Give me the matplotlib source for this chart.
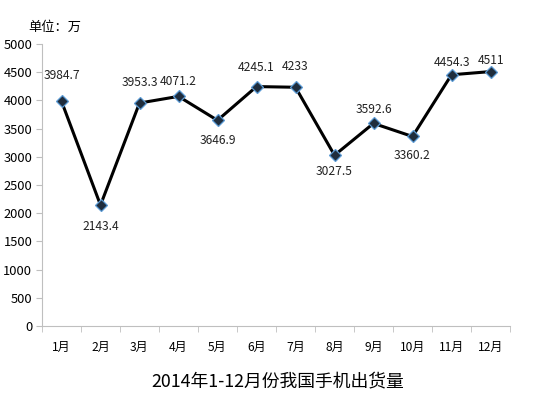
import matplotlib
matplotlib.use("Agg")
import matplotlib.pyplot as plt

plt.rcParams['font.family'] = ['Noto Sans CJK SC', 'DejaVu Sans']

months = ["1月", "2月", "3月", "4月", "5月", "6月", "7月", "8月", "9月", "10月", "11月", "12月"]
values = [3984.7, 2143.4, 3953.3, 4071.2, 3646.9, 4245.1, 4233, 3027.5, 3592.6, 3360.2, 4454.3, 4511]
labels = ["3984.7", "2143.4", "3953.3", "4071.2", "3646.9", "4245.1", "4233", "3027.5", "3592.6", "3360.2", "4454.3", "4511"]
yticks = [0, 500, 1000, 1500, 2000, 2500, 3000, 3500, 4000, 4500, 5000]

# vertical offset (pixels) of each data label's centre from its marker
label_offsets_px = [26, -21, 21, 15, -20, 19, 21, -16, 14, -19, 12, 11]

fig = plt.figure(figsize=(5.43, 3.98), dpi=100)
ax = fig.add_axes([42/543, 1-326/398, (510-42)/543, (326-44)/398])

x = list(range(len(months)))
ax.plot(x, values, color='black', linewidth=2.2, zorder=2)
ax.plot(x, values, linestyle='none', marker='D', markersize=6.5,
        markerfacecolor='#1f2d3d', markeredgecolor='#5b9bd5', markeredgewidth=0.9, zorder=3)

for xi, v, lab, off in zip(x, values, labels, label_offsets_px):
    ax.annotate(lab, (xi, v), xytext=(0, off * 0.72), textcoords='offset points',
                ha='center', va='center', fontsize=8.7, color='#222222')

ax.set_xlim(-0.5, len(months) - 0.5)
ax.set_ylim(0, 5000)
ax.set_yticks(yticks)
ax.set_yticklabels([str(t) for t in yticks], fontsize=9.3)
ax.set_xticks(x)
ax.set_xticklabels(months, fontsize=8.7)
ax.set_xticks([i - 0.5 for i in range(len(months) + 1)], minor=True)
ax.tick_params(axis='x', which='major', length=0, pad=11)
ax.tick_params(axis='x', which='minor', length=4, color='#bfbfbf', direction='out')
ax.tick_params(axis='y', length=4, color='#bfbfbf', direction='out', pad=3)

for s in ['top', 'right']:
    ax.spines[s].set_visible(False)
for s in ['left', 'bottom']:
    ax.spines[s].set_color('#bfbfbf')
    ax.spines[s].set_linewidth(0.8)

fig.text(28/543, 1-27/398, "单位：万", fontsize=9.5, ha='left', va='center')
fig.text(278/543, 1-381/398, "2014年1-12月份我国手机出货量", fontsize=12.8, ha='center', va='center')

fig.savefig("out.png", dpi=100)
